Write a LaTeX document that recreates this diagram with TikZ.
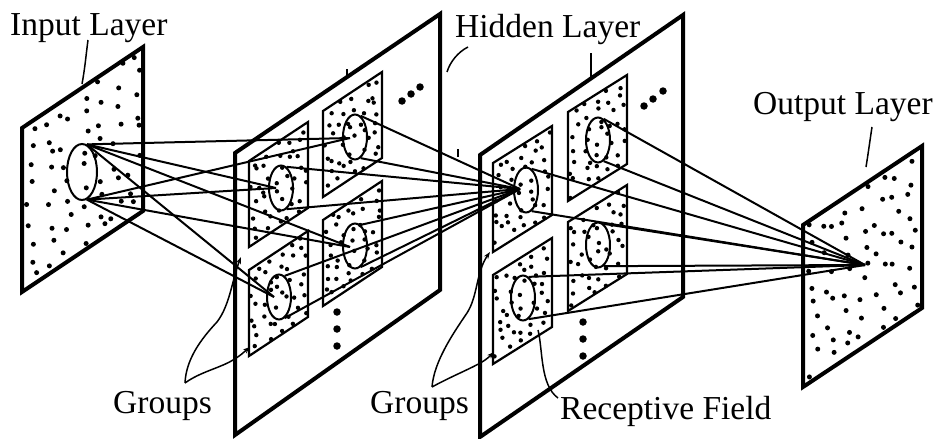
\documentclass[tikz,border=0pt]{standalone}
\usepackage{fontspec}
\setmainfont{Liberation Serif}
\usetikzlibrary{shapes.geometric,arrows.meta,calc}
\newcommand\panelDots[8]{%
  \foreach \ii in {1,...,#6}{%
    \foreach \jj in {1,...,#7}{%
      \pgfmathsetmacro\uu{(\ii-0.5+0.38*rand)/#6}%
      \pgfmathsetmacro\vv{(\jj-0.5+0.38*rand)/#7}%
      \fill ({#1+\uu*#3},{#2-\uu*#4+\vv*#5}) circle (#8);
    }}}
\newcommand\flatPanel[6]{%
  \draw[#1] (#2,#3) -- ++(#4,-#5) -- ++(0,#6) -- ++(-#4,#5) -- cycle;}
\begin{document}
\begin{tikzpicture}[x=1pt,y=-1pt,
  bigpanel/.style={draw, line width=4pt, fill=white, line join=miter},
  subpanel/.style={draw, line width=2.2pt, fill=white},
  field/.style={draw, ellipse, line width=2pt, minimum width=24pt, minimum height=45pt, inner sep=0pt},
  conn/.style={line width=2pt},
  leader/.style={line width=1.5pt},
  lbl/.style={anchor=base west, inner sep=0pt, font=\fontsize{33.5}{40}\selectfont},
  bigdot/.style={fill, circle, minimum size=7.5pt, inner sep=0pt}
]
\useasboundingbox (0,0) rectangle (938,439);
\pgfmathsetseed{11}
% ---------- input layer
\flatPanel{bigpanel}{22}{128}{121}{81}{164}
\panelDots{22}{128}{121}{81}{164}{7}{9}{2.5pt}
\node[field, minimum width=30pt, minimum height=56pt] (inE) at (82,172) {};
% ---------- hidden layer 1
\draw[bigpanel] (235,153) -- (440,14) -- (440,290) -- (235,435) -- cycle;
\foreach \x/\y in {249/161,323/111,323/220,249/270}{
  \flatPanel{subpanel}{\x}{\y}{59}{39}{86}
  \panelDots{\x}{\y}{59}{39}{86}{5}{8}{2.2pt}
}
\node[field] (hA) at (281,188) {};
\node[field] (hB) at (355,137) {};
\node[field] (hC) at (355,246) {};
\node[field] (hD) at (279,297) {};
\node[bigdot] (d1a) at (402,101) {};
\node[bigdot] (d1b) at (411,94) {};
\node[bigdot] (d1c) at (420,87) {};
\node[bigdot] (v1a) at (337,312) {};
\node[bigdot] (v1b) at (337,329) {};
\node[bigdot] (v1c) at (337,346) {};
% ---------- hidden layer 2
\draw[bigpanel] (480,155) -- (683,15) -- (683,297) -- (480,437) -- cycle;
\foreach \x/\y in {493/163,568/112,568/222,493/275}{
  \flatPanel{subpanel}{\x}{\y}{59}{37}{89}
  \panelDots{\x}{\y}{59}{37}{89}{5}{8}{2.2pt}
}
\node[field] (gA) at (526,190) {};
\node[field] (gB) at (598,140) {};
\node[field] (gC) at (598,245) {};
\node[field] (gD) at (523,298) {};
\node[bigdot] (d2a) at (644,106) {};
\node[bigdot] (d2b) at (653,99) {};
\node[bigdot] (d2c) at (663,91) {};
\node[bigdot] (v2a) at (583,322) {};
\node[bigdot] (v2b) at (583,339) {};
\node[bigdot] (v2c) at (583,356) {};
% ---------- output layer
\flatPanel{bigpanel}{803}{225}{119}{79}{162}
\panelDots{803}{225}{119}{79}{162}{7}{9}{2.5pt}
% ---------- convergence points
\coordinate (tA) at (276,188);
\coordinate (tB) at (350,138);
\coordinate (tC) at (350,247);
\coordinate (tD) at (274,297);
\coordinate (t2) at (520,189);
\coordinate (tOut) at (865,265);
% ---------- connections
\foreach \t in {tA,tB,tC,tD}{
  \draw[conn] (inE.80) -- (\t);
  \draw[conn] (inE.-80) -- (\t);
}
\foreach \e in {hA,hB,hC,hD}{
  \draw[conn] (\e.75) -- (t2);
  \draw[conn] (\e.-75) -- (t2);
}
\foreach \e in {gA,gB,gC,gD}{
  \draw[conn] (\e.75) -- (tOut);
  \draw[conn] (\e.-75) -- (tOut);
}
% ---------- labels
\node[lbl] (linput) at (10,35) {Input Layer};
\node[lbl] (lhidden) at (455,37) {Hidden Layer};
\node[lbl] (loutput) at (753,114) {Output Layer};
\node[lbl] (lgroups1) at (113,413) {Groups};
\node[lbl] (lgroups2) at (370,413) {Groups};
\node[lbl] (lfield) at (560,419) {Receptive Field};
% ---------- leaders
\draw[leader] (88,40) .. controls (86,55) and (85,68) .. (82,84);
\draw[leader] (468,47) .. controls (458,52) and (450,62) .. (447,72);
\draw[leader] (591,53) -- (591,79);
\draw[leader] (872,127) .. controls (870,140) and (868,155) .. (866,167);
\draw[leader] (347,69) -- (347,76);
\draw[leader] (458,149) -- (458,157);
\coordinate (gt1) at (185,383);
\coordinate (gt2) at (432,387);
\draw[leader,-{Stealth[length=7pt,width=5pt]}] (gt1) .. controls (186,360) and (200,340) .. (217,322) .. controls (230,305) and (232,280) .. (241,257);
\draw[leader,-{Stealth[length=7pt,width=5pt]}] (gt1) .. controls (200,372) and (220,368) .. (233,360) .. controls (240,356) and (244,352) .. (250,347);
\draw[leader,-{Stealth[length=7pt,width=5pt]}] (gt2) .. controls (434,362) and (452,335) .. (467,313) .. controls (478,296) and (476,272) .. (490,252);
\draw[leader,-{Stealth[length=7pt,width=5pt]}] (gt2) .. controls (450,377) and (470,369) .. (482,362) .. controls (487,359) and (490,356) .. (494,352);
\draw[leader] (538,330) .. controls (543,350) and (540,385) .. (558,398);
\end{tikzpicture}
\end{document}
